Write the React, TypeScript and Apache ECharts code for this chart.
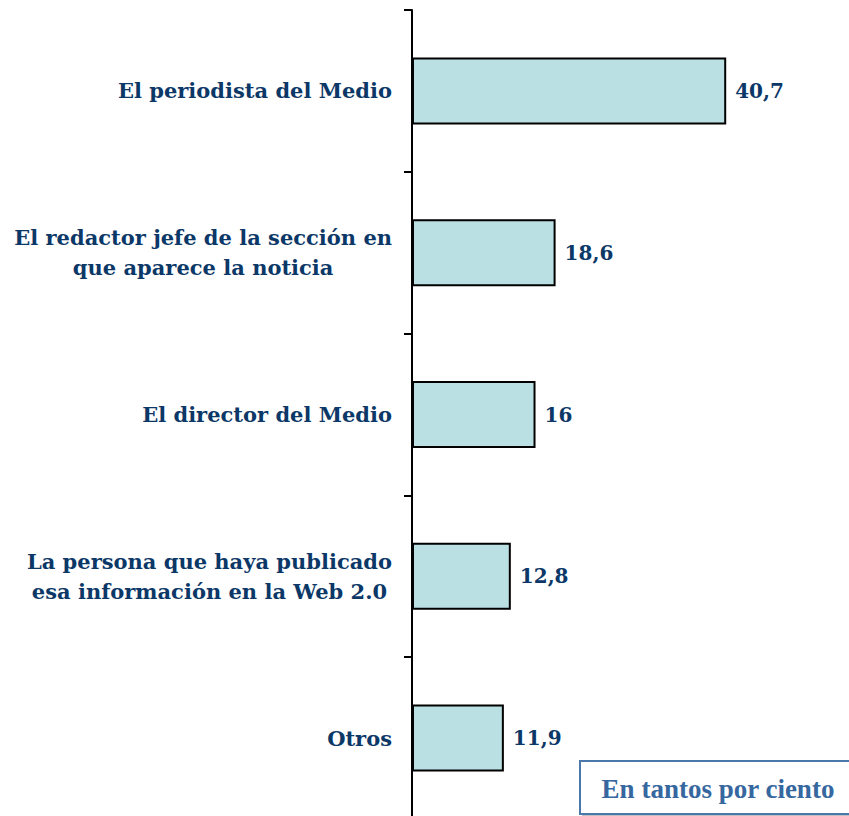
import React, { useEffect, useRef } from "react";
import * as echarts from "echarts";

const categories = [
  "El periodista del Medio",
  "El redactor jefe de la sección en\nque aparece la noticia",
  "El director del Medio",
  "La persona que haya publicado\nesa información en la Web 2.0",
  "Otros",
];
const values = [40.7, 18.6, 16, 12.8, 11.9];
const valueLabels = ["40,7", "18,6", "16", "12,8", "11,9"];
const unitNote = "En tantos por ciento";

const NAVY = "#0c3868";

export default function App() {
  const ref = useRef<HTMLDivElement>(null);
  useEffect(() => {
    document.body.style.margin = "0";
    document.body.style.overflow = "hidden";
    const chart = echarts.init(ref.current!, null, { renderer: "svg" });
    chart.setOption({
      animation: false,
      backgroundColor: "#ffffff",
      grid: { left: 412, top: 10, width: 386, height: 809, containLabel: false },
      xAxis: { type: "value", min: 0, max: 50, show: false },
      yAxis: {
        type: "category",
        data: categories,
        inverse: true,
        axisLine: { show: true, lineStyle: { color: "#000", width: 2 } },
        axisTick: { show: true, inside: false, length: 8, lineStyle: { color: "#000", width: 2 } },
        axisLabel: {
          margin: 20,
          color: NAVY,
          fontFamily: "DejaVu Serif",
          fontWeight: "bold",
          fontSize: 21,
          lineHeight: 30,
          align: "right",
          formatter: (v: string) =>
            v
              .split("\n")
              .map((l) => `{c|${l}}`)
              .join("\n"),
          rich: {
            c: {
              align: "center",
              color: NAVY,
              fontFamily: "DejaVu Serif",
              fontWeight: "bold",
              fontSize: 21,
              lineHeight: 30,
            },
          },
        },
      },
      series: [
        {
          type: "bar",
          data: values,
          barWidth: 67,
          itemStyle: { color: "#bae0e3", borderColor: "#000", borderWidth: 2 },
          label: {
            show: true,
            position: "right",
            distance: 9,
            color: NAVY,
            fontFamily: "DejaVu Serif",
            fontWeight: "bold",
            fontSize: 20,
            formatter: (p: any) => valueLabels[p.dataIndex],
          },
        },
      ],
      graphic: [
        {
          type: "rect",
          shape: { x: 582, y: 763, width: 270, height: 53 },
          style: { fill: "rgba(0,0,0,0.25)" },
          z: 10,
        },
        {
          type: "rect",
          shape: { x: 580, y: 761, width: 270, height: 53 },
          style: { fill: "#fff", stroke: "#4a78ab", lineWidth: 2 },
          z: 11,
        },
        {
          type: "text",
          x: 718,
          y: 789,
          style: {
            text: unitNote,
            fill: "#36679f",
            font: "bold 27px 'Liberation Serif'",
            align: "center",
            verticalAlign: "middle",
          },
          z: 12,
        },
      ],
    });
    return () => chart.dispose();
  }, []);
  return <div ref={ref} style={{ width: 849, height: 830 }} />;
}
